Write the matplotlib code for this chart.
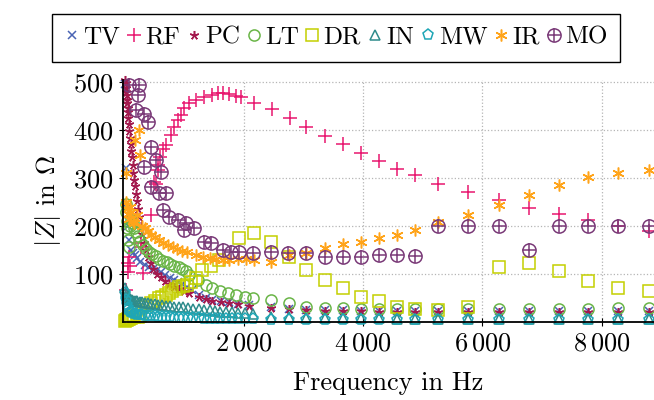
import matplotlib
matplotlib.use("Agg")
import matplotlib.pyplot as plt
from matplotlib.legend_handler import HandlerTuple

plt.rcParams['font.family'] = 'cmr10'
plt.rcParams['mathtext.fontset'] = 'cm'
plt.rcParams['axes.formatter.use_mathtext'] = True

# impedance magnitude |Z| (Ohm) over frequency (Hz) for each material
f_tv = [10, 20, 35, 50, 70, 100, 130, 165, 200, 250, 330, 400, 480, 540, 610, 680, 750, 820, 890, 960,
        1040, 1120, 1250, 1360, 1470, 1610, 1750, 1890, 2090, 2450, 2760, 3040, 3350, 3660, 3955, 4265,
        4570, 4865, 5260, 5765, 6270, 6775, 7280, 7770, 8275, 8795]
z_tv = [495, 320, 247, 200, 170, 150, 144, 139, 132, 125, 118, 114, 110, 107, 104, 97, 90, 86, 83, 79,
        72, 65, 56, 50, 46, 42, 40, 37, 34, 30, 27, 25, 24, 24, 23, 23,
        23, 23, 23, 23, 23, 23, 23, 23, 23, 23]

f_rf = [22, 50, 60, 75, 80, 270, 275, 300, 440, 490, 525, 550, 555, 585, 640, 695, 780, 825, 890, 945,
        1000, 1080, 1190, 1330, 1470, 1555, 1640, 1750, 1865, 1950, 2170, 2465, 2770, 3040, 3350, 3660,
        3955, 4265, 4570, 4865, 5260, 5765, 6270, 6775, 7280, 7770, 8275, 8795]
z_rf = [66, 104, 122, 135, 115, 163, 156, 101, 222, 292, 288, 316, 326, 344, 361, 368, 389, 406, 420, 432,
        445, 455, 463, 468, 472, 476, 476, 474, 470, 468, 456, 443, 425, 406, 387, 370,
        351, 335, 318, 306, 288, 270, 254, 238, 225, 212, 200, 189]

f_pc = [10, 15, 20, 25, 30, 35, 40, 45, 50, 58, 66, 75, 85, 95, 105, 115, 128, 142, 156, 170,
        185, 200, 220, 240, 265, 290, 320, 350, 390, 430, 480, 540, 600, 670, 740, 820, 900, 990,
        1080, 1250, 1360, 1470, 1610, 1750, 1890, 2090, 2450, 2760, 3040, 3350, 3660, 3955, 4265,
        4570, 4865, 5260, 5765, 6270, 6775, 7280, 7770, 8275, 8795]
z_pc = [505, 497, 488, 480, 472, 463, 455, 446, 438, 425, 412, 398, 384, 370, 356, 343, 327, 311, 296, 282,
        267, 252, 235, 219, 200, 183, 165, 150, 135, 122, 110, 100, 92, 85, 79, 73, 68, 64,
        60, 52, 48, 44, 41, 38, 36, 33, 29, 26, 24, 23, 22, 22, 21,
        21, 21, 21, 21, 21, 21, 21, 21, 21, 21]

f_lt = [12, 20, 30, 40, 55, 70, 90, 110, 135, 160, 190, 220, 260, 300, 350, 400, 460, 520, 580, 640,
        700, 760, 830, 900, 960, 1020, 1080, 1220, 1360, 1470, 1590, 1730, 1870, 2010, 2150, 2450, 2760,
        3040, 3350, 3660, 3955, 4265, 4570, 4865, 5260, 5765, 6270, 6775, 7280, 7770, 8275, 8795]
z_lt = [245, 228, 210, 195, 170, 155, 200, 212, 205, 196, 187, 178, 168, 160, 152, 146, 141, 136, 131, 127,
        124, 121, 117, 113, 109, 105, 97, 87, 76, 70, 63, 59, 56, 52, 50, 45, 38,
        31, 28, 28, 27, 27, 26, 26, 26, 27, 27, 27, 27, 27, 28, 28]

f_dr = [8, 20, 35, 50, 70, 90, 110, 130, 150, 180, 220, 260, 291, 360, 432, 500, 571, 630, 684, 740,
        795, 850, 907, 980, 1047, 1110, 1190, 1300, 1445, 1585, 1920, 2170, 2450, 2760, 3040, 3350, 3660,
        3955, 4265, 4570, 4865, 5260, 5765, 6270, 6775, 7280, 7770, 8275, 8795]
z_dr = [2, 3, 4, 5, 6, 7, 8, 14, 10, 24, 9, 12, 31, 34, 38, 44, 49, 52, 56, 60,
        63, 68, 73, 74, 76, 82, 90, 108, 115, 129, 174, 184, 167, 135, 108, 87, 71,
        52, 44, 31, 26, 24, 31, 113, 123, 105, 85, 71, 63]

f_in = [10, 20, 30, 45, 60, 80, 100, 125, 150, 180, 210, 250, 290, 340, 390, 440, 500, 560, 620, 690,
        760, 830, 900, 980, 1060, 1150, 1240, 1330, 1420, 1510, 1600, 1700, 1800, 1900, 2010, 2150, 2450,
        2760, 3040, 3350, 3660, 3955, 4265, 4570, 4865, 5260, 5765, 6270, 6775, 7280, 7770, 8275, 8795]
z_in = [70, 62, 57, 53, 50, 48, 46, 45, 44, 43, 42, 41, 40, 39, 38, 37, 36, 35, 34, 33,
        32, 31, 30, 30, 29, 27, 26, 25, 24, 22, 21, 20, 19, 18, 17, 15, 10,
        9, 8, 7, 7, 7, 7, 6, 6, 6, 6, 6, 6, 6, 6, 6, 6]

f_mw = f_in
z_mw = [60, 45, 35, 28, 24, 21, 19, 17, 16, 15, 14, 13, 13, 12, 12, 11, 11, 10, 10, 9,
        9, 8, 8, 8, 7, 7, 7, 6, 6, 6, 6, 5, 5, 5, 5, 5, 4,
        4, 4, 4, 4, 4, 4, 4, 4, 4, 4, 4, 4, 4, 4, 4, 4]

f_ir = [15, 25, 35, 50, 70, 90, 110, 130, 150, 175, 200, 235, 260, 290, 330, 380, 440, 500, 570, 640,
        720, 800, 880, 960, 1050, 1190, 1310, 1420, 1530, 1640, 1750, 1890, 2030, 2170, 2450, 2760, 3040,
        3350, 3660, 3955, 4265, 4570, 4865, 5260, 5765, 6270, 6775, 7280, 7770, 8275, 8795]
z_ir = [309, 250, 235, 225, 215, 240, 228, 210, 205, 379, 222, 400, 347, 200, 195, 188, 181, 176, 170, 165,
        160, 155, 151, 148, 145, 139, 135, 132, 130, 129, 129, 130, 130, 129, 125, 139, 144,
        153, 161, 167, 174, 181, 191, 208, 222, 243, 264, 285, 301, 309, 316]

f_mo = [72, 240, 213, 185, 325, 381, 437, 521, 325, 605, 437, 577, 689, 634, 745, 886, 1025, 997, 1165,
        1333, 1445, 1642, 1782, 1921, 2146, 2454, 2734, 3042, 3350, 3660, 3956, 4266, 4569, 4865, 5259,
        5764, 6269, 6774, 7279, 7768, 8273, 8795]
z_mo = [493, 493, 472, 441, 434, 417, 365, 337, 323, 313, 281, 268, 268, 233, 219, 212, 205, 191, 195,
        167, 163, 149, 146, 146, 143, 146, 143, 144, 135, 135, 135, 139, 139, 137, 200,
        200, 200, 149, 200, 200, 200, 200]

fig = plt.figure(figsize=(6.54, 4.0), dpi=100)
ax = fig.add_axes([0.1885, 0.196, 0.8115, 0.604])

kw = dict(ls='none', clip_on=False, mew=1.1)
h_tv, = ax.plot(f_tv, z_tv, marker='x', ms=5.5, color='#4a64b4', **kw)
h_rf, = ax.plot(f_rf, z_rf, marker='+', ms=10, color='#e8176f', **kw)
h_pc, = ax.plot(f_pc, z_pc, marker=(5, 2, 0), ms=6.5, color='#a31a4e', **kw)
h_lt, = ax.plot(f_lt, z_lt, marker='o', ms=8, mfc='none', color='#6ab547', **kw)
h_dr, = ax.plot(f_dr, z_dr, marker='s', ms=9, mfc='none', color='#c4d000', **kw)
h_in, = ax.plot(f_in, z_in, marker='^', ms=7, mfc='none', color='#2f8c8c', **kw)
h_mw, = ax.plot(f_mw, z_mw, marker='p', ms=8, mfc='none', color='#1ea6b6', **kw)
h_ir, = ax.plot(f_ir, z_ir, marker=(6, 2, 0), ms=8.5, color='#ffa41a', **kw)
h_mo1, = ax.plot(f_mo, z_mo, marker='o', ms=9.5, mfc='none', color='#7a3a78', **kw)
h_mo2, = ax.plot(f_mo, z_mo, marker='+', ms=9.5, color='#7a3a78', **kw)

ax.set_xlim(-27, 8878)
ax.set_ylim(0, 504)
ax.set_xticks([2000, 4000, 6000, 8000])
ax.set_xticklabels([r'$2\,000$', r'$4\,000$', r'$6\,000$', r'$8\,000$'])
ax.set_yticks([100, 200, 300, 400, 500])
ax.set_yticklabels([r'$100$', r'$200$', r'$300$', r'$400$', r'$500$'])
ax.tick_params(direction='inout', length=6, width=0.8, labelsize=19, pad=4)
ax.grid(True, ls=':', lw=0.9, color='#b5b5b5')
ax.set_axisbelow(True)
for s in ['top', 'right']:
    ax.spines[s].set_visible(False)
for s in ['left', 'bottom']:
    ax.spines[s].set_linewidth(1.3)

ax.set_xlabel('Frequency in Hz', fontsize=19, labelpad=12)
ax.set_ylabel(r'$|Z|$ in $\Omega$', fontsize=19, labelpad=7)

handles = [h_tv, h_rf, h_pc, h_lt, h_dr, h_in, h_mw, h_ir, (h_mo1, h_mo2)]
labels = ['TV', 'RF', 'PC', 'LT', 'DR', 'IN', 'MW', 'IR', 'MO']
leg = fig.legend(handles, labels, ncol=9, loc='upper left', bbox_to_anchor=(52 / 654, 1 - 14 / 400),
                 fontsize=18, frameon=True, fancybox=False, edgecolor='black', framealpha=1,
                 handlelength=0.6, handletextpad=0.15, columnspacing=0.25, borderpad=0.5,
                 borderaxespad=0, handler_map={tuple: HandlerTuple(ndivide=1, pad=0)})
leg.get_frame().set_linewidth(1.0)

plt.savefig('out.png', dpi=100)
